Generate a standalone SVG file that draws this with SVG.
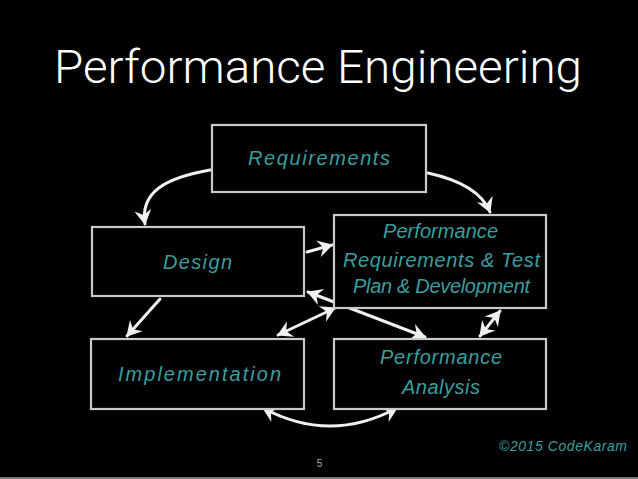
<svg xmlns="http://www.w3.org/2000/svg" width="638" height="479" viewBox="0 0 638 479">
<style>
.box{fill:#000;stroke:#c9c9c9;stroke-width:2.2}
.lbl{font-family:"Liberation Sans","DejaVu Sans",sans-serif;font-style:italic;font-size:20px;fill:#3a9e9e;text-anchor:middle}
.con{fill:none;stroke:#f0f0f0;stroke-width:3;stroke-linecap:round}
</style>
<defs>
<marker id="ah" viewBox="-15 -9 17 18" refX="0" refY="0" markerWidth="17" markerHeight="18" markerUnits="userSpaceOnUse" orient="auto-start-reverse">
<path d="M1,0 L-14,-8.5 L-9,0 L-14,8.5 Z" fill="#f0f0f0"/>
</marker>
</defs>
<rect x="0" y="0" width="638" height="479" fill="#000"/>
<text x="54" y="83" font-family="Roboto,'Liberation Sans',sans-serif" font-weight="300" font-size="47" fill="#fff" textLength="528" lengthAdjust="spacingAndGlyphs">Performance Engineering</text>
<g id="connectors">
<path class="con" d="M210,170 C165,178 140,192 145,224" marker-end="url(#ah)"/>
<path class="con" d="M428,173 C460,180 482,192 490,212" marker-end="url(#ah)"/>
<path class="con" d="M307,252 L332,245" marker-end="url(#ah)"/>
<path class="con" d="M308,292 L425,337" marker-start="url(#ah)" marker-end="url(#ah)"/>
<path class="con" d="M278,335 L335,308" marker-start="url(#ah)" marker-end="url(#ah)"/>
<path class="con" d="M160,299 L127,336" marker-end="url(#ah)"/>
<path class="con" d="M500,311 L480,336" marker-start="url(#ah)" marker-end="url(#ah)"/>
<path class="con" d="M263,408 Q330,444 397,408" marker-start="url(#ah)" marker-end="url(#ah)"/>
</g>
<g id="requirements">
<rect class="box" x="212" y="125" width="214" height="67"/>
<text class="lbl" x="319" y="165" textLength="142">Requirements</text>
</g>
<g id="design">
<rect class="box" x="92" y="227" width="212" height="69"/>
<text class="lbl" x="197.5" y="269" textLength="69">Design</text>
</g>
<g id="perf-req">
<rect class="box" x="334" y="215" width="212" height="93"/>
<text class="lbl" x="440.5" y="238" textLength="115">Performance</text>
<text class="lbl" x="441.5" y="267" textLength="197">Requirements &amp; Test</text>
<text class="lbl" x="441.5" y="293" textLength="177">Plan &amp; Development</text>
</g>
<g id="implementation">
<rect class="box" x="91" y="339" width="213" height="70"/>
<text class="lbl" x="199.5" y="381" textLength="163">Implementation</text>
</g>
<g id="perf-analysis">
<rect class="box" x="334" y="339" width="212" height="70"/>
<text class="lbl" x="441" y="364" textLength="122">Performance</text>
<text class="lbl" x="441" y="394" textLength="78">Analysis</text>
</g>
<text class="lbl" x="563" y="451" style="font-size:14px" textLength="128">©2015 CodeKaram</text>
<text x="319.5" y="467" font-family="'Liberation Sans',sans-serif" font-size="10" fill="#aaa" text-anchor="middle">5</text>
<rect x="0" y="477" width="638" height="2" fill="#777"/>
</svg>
